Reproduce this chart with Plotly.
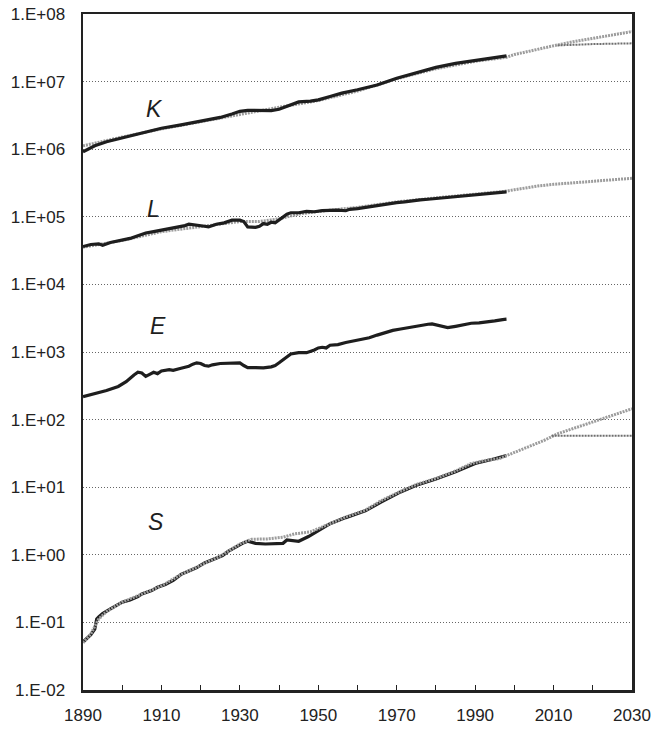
import numpy as np
import plotly.graph_objects as go

# ---------------- data (log10 of values) ----------------
K_YEARS = [1890, 1893, 1896, 1900, 1905, 1910, 1915, 1920, 1925, 1928, 1930, 1932, 1935, 1938,
           1940, 1943, 1945, 1948, 1950, 1953, 1956, 1960, 1965, 1970, 1975, 1980, 1985, 1990,
           1995, 1998]
K_LOG = [5.96, 6.05, 6.11, 6.17, 6.24, 6.31, 6.36, 6.41, 6.47, 6.52, 6.56, 6.575, 6.57, 6.57,
         6.59, 6.66, 6.70, 6.71, 6.73, 6.78, 6.83, 6.88, 6.95, 7.05, 7.13, 7.21, 7.27, 7.31,
         7.35, 7.38]
K_FIT_YEARS = [1890, 1895, 1900, 1910, 1920, 1930, 1940, 1950, 1960, 1970, 1980, 1990, 1998,
               2000, 2005, 2010, 2015, 2020, 2025, 2030]
K_FIT_LOG = [6.05, 6.12, 6.18, 6.30, 6.41, 6.52, 6.62, 6.72, 6.86, 7.04, 7.19, 7.30, 7.36,
             7.40, 7.47, 7.53, 7.59, 7.64, 7.69, 7.74]
K_ALT_YEARS = [2011, 2015, 2020, 2030]
K_ALT_LOG = [7.535, 7.545, 7.555, 7.566]

L_YEARS = [1890, 1892, 1894, 1895, 1897, 1900, 1902, 1904, 1906, 1908, 1910, 1912, 1914, 1916,
           1917, 1919, 1921, 1922, 1924, 1926, 1928, 1930, 1931, 1932, 1934, 1935, 1936, 1937,
           1938, 1939, 1940, 1941, 1942, 1943, 1945, 1947, 1949, 1951, 1953, 1955, 1957, 1958,
           1960, 1962, 1964, 1966, 1968, 1970, 1972, 1974, 1976, 1978, 1980, 1982, 1984, 1986,
           1988, 1990, 1992, 1994, 1996, 1998]
L_LOG = [4.56, 4.59, 4.60, 4.58, 4.62, 4.65, 4.68, 4.72, 4.76, 4.78, 4.80, 4.83, 4.85, 4.87,
         4.89, 4.88, 4.86, 4.85, 4.89, 4.91, 4.95, 4.95, 4.93, 4.85, 4.845, 4.86, 4.90, 4.89,
         4.92, 4.91, 4.95, 4.99, 5.04, 5.06, 5.06, 5.08, 5.075, 5.09, 5.10, 5.10, 5.09, 5.11,
         5.12, 5.14, 5.15, 5.17, 5.20, 5.21, 5.22, 5.24, 5.25, 5.26, 5.27, 5.28, 5.29, 5.31,
         5.32, 5.32, 5.34, 5.35, 5.36, 5.37]
L_FIT_YEARS = [1890, 1900, 1910, 1920, 1930, 1935, 1940, 1945, 1950, 1960, 1970, 1980, 1990,
               1998, 2000, 2006, 2010, 2015, 2020, 2025, 2030]
L_FIT_LOG = [4.55, 4.65, 4.78, 4.86, 4.93, 4.93, 4.97, 5.04, 5.08, 5.14, 5.22, 5.28, 5.33,
             5.38, 5.40, 5.456, 5.48, 5.50, 5.53, 5.55, 5.57]

E_YEARS = [1890, 1893, 1896, 1899, 1901, 1903, 1904, 1905, 1906, 1907, 1908, 1909, 1910, 1912,
           1913, 1915, 1917, 1918, 1919, 1920, 1921, 1922, 1923, 1925, 1927, 1929, 1930, 1931,
           1932, 1934, 1936, 1938, 1939, 1940, 1941, 1942, 1943, 1945, 1947, 1949, 1950, 1951,
           1952, 1953, 1955, 1957, 1959, 1961, 1963, 1965, 1967, 1969, 1971, 1972, 1973, 1975,
           1977, 1978, 1979, 1980, 1982, 1983, 1985, 1987, 1989, 1991, 1993, 1995, 1997, 1998]
E_LOG = [2.34, 2.38, 2.43, 2.49, 2.56, 2.66, 2.70, 2.69, 2.64, 2.67, 2.70, 2.68, 2.72, 2.74,
         2.73, 2.76, 2.79, 2.82, 2.84, 2.83, 2.80, 2.79, 2.81, 2.83, 2.83, 2.84, 2.84, 2.80,
         2.77, 2.77, 2.765, 2.78, 2.80, 2.84, 2.88, 2.93, 2.97, 2.99, 2.99, 3.03, 3.06, 3.07,
         3.06, 3.10, 3.11, 3.14, 3.16, 3.18, 3.21, 3.25, 3.29, 3.32, 3.34, 3.35, 3.37, 3.39,
         3.40, 3.41, 3.415, 3.40, 3.37, 3.36, 3.38, 3.40, 3.425, 3.43, 3.44, 3.46, 3.48, 3.485]

S_YEARS = [1890, 1891, 1892, 1893, 1893.5, 1894, 1895, 1897, 1899, 1900, 1902, 1904, 1905,
           1906, 1907.5, 1909, 1911, 1913, 1915, 1917, 1919, 1921, 1923, 1925.6, 1927, 1929,
           1931, 1932, 1934, 1936.5, 1939, 1941, 1942, 1943.8, 1945, 1947.5, 1950, 1953, 1957,
           1962, 1966, 1971, 1975, 1980, 1985, 1990, 1995, 1998]
S_LOG = [-1.29, -1.24, -1.18, -1.10, -0.95, -0.92, -0.87, -0.80, -0.73, -0.70, -0.67, -0.62,
         -0.58, -0.56, -0.53, -0.48, -0.44, -0.38, -0.29, -0.24, -0.19, -0.12, -0.07, -0.01,
         0.05, 0.12, 0.18, 0.20, 0.17, 0.16, 0.16, 0.17, 0.22, 0.21, 0.20, 0.27, 0.36, 0.46,
         0.55, 0.65, 0.78, 0.93, 1.03, 1.12, 1.23, 1.35, 1.42, 1.47]
S_FIT_YEARS = [1890, 1892, 1894, 1896, 1900, 1905, 1910, 1915, 1920, 1925, 1930, 1933, 1937,
               1941, 1944, 1948, 1953, 1957, 1962, 1966, 1971, 1975, 1980, 1985, 1989, 1993,
               1996, 1999, 2003, 2007.5, 2011, 2015, 2020, 2025, 2030]
S_FIT_LOG = [-1.30, -1.17, -0.95, -0.84, -0.70, -0.58, -0.46, -0.29, -0.15, -0.02, 0.16, 0.23,
             0.235, 0.26, 0.31, 0.34, 0.46, 0.56, 0.66, 0.80, 0.94, 1.04, 1.13, 1.24, 1.35,
             1.40, 1.42, 1.49, 1.59, 1.69, 1.79, 1.87, 1.96, 2.06, 2.16]
S_ALT_YEARS = [2009.5, 2030]
S_ALT_LOG = [1.76, 1.76]

Y_TICK_EXP = list(range(-2, 9))
Y_TICK_TEXT = ["1.E-02", "1.E-01", "1.E+00", "1.E+01", "1.E+02", "1.E+03", "1.E+04",
               "1.E+05", "1.E+06", "1.E+07", "1.E+08"]
X_TICKS = list(range(1890, 2031, 10))
X_TICK_TEXT = [str(y) if (y - 1890) % 20 == 0 else "" for y in X_TICKS]

LABELS = ["K", "L", "E", "S"]
DARK_GRID_EXP = -1

# ---------------- styles ----------------
BLACK = "#1e1e1e"
FIT_COLOR = "#9c9c9c"
ALT_COLOR = "#6e6e6e"
FONT = "Liberation Sans, Arial, sans-serif"


def v(logs):
    return np.power(10.0, np.array(logs, dtype=float))


fig = go.Figure()


def actual(x, y):
    fig.add_trace(go.Scatter(x=x, y=v(y), mode="lines",
                             line=dict(color=BLACK, width=3.2), hoverinfo="skip"))


def fit(x, y):
    fig.add_trace(go.Scatter(x=x, y=v(y), mode="lines",
                             line=dict(color=FIT_COLOR, width=3, dash="2px,1px"),
                             hoverinfo="skip"))


def alt(x, y):
    fig.add_trace(go.Scatter(x=x, y=v(y), mode="lines",
                             line=dict(color=ALT_COLOR, width=2, dash="2px,1px"),
                             hoverinfo="skip"))


# K
fit(K_FIT_YEARS, K_FIT_LOG)
alt(K_ALT_YEARS, K_ALT_LOG)
actual(K_YEARS, K_LOG)
# L
fit(L_FIT_YEARS, L_FIT_LOG)
actual(L_YEARS, L_LOG)
# E
actual(E_YEARS, E_LOG)
# S
actual(S_YEARS, S_LOG)
fit(S_FIT_YEARS, S_FIT_LOG)
alt(S_ALT_YEARS, S_ALT_LOG)

# labels
label_pos = {"K": (0.111, 0.881), "L": (0.113, 0.733), "E": (0.118, 0.539), "S": (0.114, 0.226)}
for name in LABELS:
    px, py = label_pos[name]
    fig.add_annotation(x=px, y=py, xref="paper", yref="paper", text="<i>%s</i>" % name,
                       showarrow=False, font=dict(size=23, color=BLACK, family=FONT))

# darker 1.E-01 reference line
fig.add_shape(type="line", xref="paper", x0=0, x1=1, yref="y",
              y0=DARK_GRID_EXP, y1=DARK_GRID_EXP,
              line=dict(color="#333333", width=1, dash="3px,1px"), layer="below")

fig.update_layout(
    width=653, height=729,
    margin=dict(l=83, r=21, t=14, b=39, autoexpand=False),
    paper_bgcolor="white", plot_bgcolor="white",
    showlegend=False, hovermode=False,
    font=dict(family=FONT, size=17, color="#222222"),
)
fig.update_xaxes(
    range=[1890, 2030], tickmode="array", tickvals=X_TICKS, ticktext=X_TICK_TEXT,
    ticks="inside", ticklen=5, tickwidth=1, tickcolor="#222222",
    showgrid=False, zeroline=False, automargin=False,
    showline=True, mirror=True, linewidth=2.5, linecolor="#222222",
    ticklabelstandoff=8,
)
fig.update_yaxes(
    type="log", range=[-2, 8], tickmode="array",
    tickvals=[10.0 ** e for e in Y_TICK_EXP], ticktext=Y_TICK_TEXT,
    ticks="", showgrid=True, gridcolor="#666666", gridwidth=1, griddash="1px,2px",
    zeroline=False, showline=True, mirror=True, linewidth=2.5, linecolor="#222222",
    ticklabelstandoff=12, automargin=False,
)

fig.write_html(
    "out.html",
    config={"displayModeBar": False, "staticPlot": True},
    post_script="document.body.style.margin='0';document.body.style.overflow='hidden';",
)
